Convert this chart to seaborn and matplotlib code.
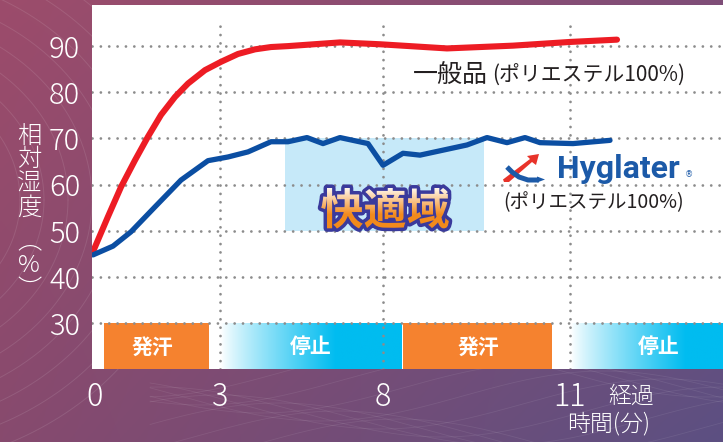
import numpy as np
import pandas as pd
import seaborn as sns
import matplotlib.pyplot as plt
from matplotlib.patches import PathPatch, Polygon
from matplotlib.textpath import TextPath
from matplotlib.font_manager import FontProperties
from matplotlib.transforms import Affine2D
from matplotlib.colors import to_rgb

# horizontal position along the chart (the time phases are not drawn to scale)
general_pos = [93, 108, 121, 135, 148, 161, 175, 188, 205, 221, 238, 255, 271, 288, 340, 380, 447, 513, 570, 617]
general_rh = [45.5, 53.1, 59.5, 65.3, 70.4, 75.1, 79.0, 81.9, 84.8, 86.6, 88.3, 89.3, 89.8, 90.0, 90.8, 90.4, 89.5, 90.1, 90.9, 91.4]

hyg_pos = [93, 113, 131, 155, 181, 208, 228, 248, 271, 288, 307, 323, 340, 368, 383, 403, 420, 467, 487, 507, 525, 540, 573, 610]
hyg_rh = [44.8, 46.7, 49.8, 55.2, 61.0, 65.2, 66.0, 67.1, 69.3, 69.3, 70.2, 68.9, 70.2, 68.9, 64.2, 66.8, 66.4, 68.6, 70.2, 69.1, 70.2, 69.1, 68.9, 69.6]

time_ticks = [95, 220, 383, 570]
time_labels = ["0", "3", "8", "11"]
rh_ticks = [30, 40, 50, 60, 70, 80, 90]

phase_names = ["発汗", "停止", "発汗", "停止"]
phase_kind = ["sweat", "stop", "sweat", "stop"]
phase_start = [104, 221, 403, 571]
phase_end = [209, 402, 552, 723]
phase_text_pos = [152, 311, 478, 659]

comfort_start, comfort_end = 285, 484
comfort_lo, comfort_hi = 50, 70

W, H = 723, 442
x_lo, x_hi = 92, 723
y_lo, y_hi = 20.1, 98.9

ORANGE = "#f5822f"
CYAN = "#00bcf0"
RED = "#ed1c24"
BLUE = "#0b4ea2"
GRID = "#8c8c8c"
INK = "#231f20"

sns.set_theme(style="white")
plt.rcParams["font.family"] = ["Noto Sans CJK JP", "DejaVu Sans"]

fig = plt.figure(figsize=(W / 100, H / 100), dpi=100)

# purple background with faint swirl lines
bg = fig.add_axes([0, 0, 1, 1], zorder=-5)
tl, tr, bl, br = [np.array(to_rgb(c)) for c in ("#9c4c6b", "#7f4e78", "#874a6e", "#5c5082")]
u = np.linspace(0, 1, 240)[None, :, None]
v = np.linspace(0, 1, 150)[:, None, None]
bg_img = (1 - v) * ((1 - u) * tl + u * tr) + v * ((1 - u) * bl + u * br)
bg.imshow(bg_img, extent=(0, W, H, 0), aspect="auto")
t = np.linspace(0, 2 * np.pi, 500)
for r in range(150, 330, 24):
    bg.plot(-130 + r * np.cos(t), 200 + 0.85 * r * np.sin(t), color="white", alpha=0.10, lw=0.7)
for k in range(10):
    xx = np.linspace(150, W, 200)
    bg.plot(xx, 372 + 8 * k + 25 * np.sin((xx - 60 * k) / 90), color="white", alpha=0.08, lw=0.6)
bg.set_xlim(0, W)
bg.set_ylim(H, 0)
bg.axis("off")

ax = fig.add_axes([x_lo / W, 1 - 369 / H, (W - x_lo) / W, (369 - 5) / H])
ax.set_facecolor("white")
for s in ax.spines.values():
    s.set_visible(False)

# comfort zone
ax.fill_between([comfort_start, comfort_end], comfort_lo, comfort_hi, color="#c6e9f9", lw=0, zorder=1)

# phase bars
for name, kind, a, b in zip(phase_names, phase_kind, phase_start, phase_end):
    col = ORANGE if kind == "sweat" else CYAN
    ax.bar(a, 30 - y_lo, width=b - a, bottom=y_lo, align="edge", color=col, lw=0, zorder=2)
    if kind == "stop":
        xs = np.linspace(a, b, 400)
        tt = np.clip((xs - a) / 115, 0, 1) ** 0.85
        grad = (1 - tt)[None, :, None] * np.ones(3) + tt[None, :, None] * np.array(to_rgb(CYAN))
        ax.imshow(grad, extent=(a, b, y_lo, 30), aspect="auto", zorder=2.1, interpolation="bilinear")
for name, px in zip(phase_names, phase_text_pos):
    ax.text(px, 24.9, name, color="white", fontsize=15, fontweight="bold", ha="center", va="center", zorder=6)

# dotted grid
dots = dict(color=GRID, lw=2.0, linestyle=(0, (0.01, 3.0)), capstyle="round", zorder=3)
ax.hlines(rh_ticks, x_lo, x_hi, **dots)
ax.vlines(time_ticks[1:], y_lo, 95.3, **dots)

# humidity curves
df = pd.concat([
    pd.DataFrame({"pos": general_pos, "rh": general_rh, "series": "一般品"}),
    pd.DataFrame({"pos": hyg_pos, "rh": hyg_rh, "series": "Hyglater"}),
])
sns.lineplot(data=df[df.series == "一般品"], x="pos", y="rh", color=RED, lw=4.4, sort=False,
             estimator=None, ax=ax, zorder=5)
sns.lineplot(data=df[df.series == "Hyglater"], x="pos", y="rh", color=BLUE, lw=3.8, sort=False,
             estimator=None, ax=ax, zorder=5)

ax.set_xlim(x_lo, x_hi)
ax.set_ylim(y_lo, y_hi)
ax.set_xticks(time_ticks, time_labels)
ax.set_yticks(rh_ticks)
ax.set_xlabel("")
ax.set_ylabel("")
ax.tick_params(axis="y", length=0, pad=8.5, labelsize=21, labelcolor="white")
ax.tick_params(axis="x", length=0, pad=9, labelsize=22, labelcolor="white")
for lab in ax.get_xticklabels() + ax.get_yticklabels():
    lab.set_fontweight("light")

# 快適域 label: outlined text with a white-to-orange fill
fp = FontProperties(family="Noto Sans CJK JP", weight="bold", size=31)
tp = TextPath((0, 0), "快適域", prop=fp)
bb = tp.get_extents()
cx, cy = ax.transData.transform((385, 54.9))
trans = (Affine2D().translate(-(bb.x0 + bb.x1) / 2, -(bb.y0 + bb.y1) / 2)
         .scale(fig.dpi / 72).translate(cx, cy))
ax.add_patch(PathPatch(tp, transform=trans, facecolor="#3a3a9c", edgecolor="#3a3a9c", lw=5,
                       joinstyle="round", zorder=6))
clip = PathPatch(tp, transform=trans, facecolor="none", edgecolor="none", zorder=6)
ax.add_patch(clip)
corners = trans.transform([[bb.x0, bb.y0], [bb.x1, bb.y1]])
(d0x, d0y), (d1x, d1y) = ax.transData.inverted().transform(corners)
gv = np.clip(np.linspace(0, 1, 100) / 0.65, 0, 1)[:, None, None]
fill = (1 - gv) * np.array(to_rgb("#fff8ee")) + gv * np.array(to_rgb("#f28a1c"))
img = ax.imshow(fill, extent=(d0x, d1x, d0y, d1y), origin="upper", aspect="auto", zorder=7)
img.set_clip_path(clip)
ax.set_xlim(x_lo, x_hi)
ax.set_ylim(y_lo, y_hi)

# series labels
ax.text(488, 83.5, "一般品", fontsize=18, color=INK, ha="right", va="center", zorder=6)
ax.text(492, 83.5, "(ポリエステル100%)", fontsize=15, color=INK, ha="left", va="center", zorder=6)
fig.text(594 / W, 1 - 203 / H, "(ポリエステル100%)", fontsize=14, color=INK, ha="center", va="center")
fig.text(557 / W, 1 - 178 / H, "Hyglater", family="Roboto", fontweight="bold", fontsize=23,
         color="#1c5aa8", ha="left", va="baseline")
fig.text(689 / W, 1 - 175 / H, "®", family="DejaVu Sans", fontsize=6, color="#1c5aa8", ha="center", va="center")

# small logo mark
lg = fig.add_axes([503 / W, 1 - 184 / H, 44 / W, 34 / H])
lg.set_xlim(0, 44)
lg.set_ylim(34, 0)
lg.axis("off")
lg.plot([4, 9, 16, 25, 36], [17, 22, 27, 30, 30], color="#1c5aa8", lw=3.6, solid_capstyle="butt")
lg.add_patch(Polygon([[34, 26.5], [42, 29.5], [34, 32.5]], color="#1c5aa8", lw=0))
lg.add_patch(Polygon([[1, 32], [6, 32], [29, 12], [33, 15], [36, 4], [24, 6], [27, 9], [0, 29.5]],
                     color="#e8332a", lw=0))

# axis titles
ylab = ["相", "対", "湿", "度", "︵", "%", "︶"]
ylab_y = [137, 160, 184, 208, 242, 266, 290]
for ch, yy in zip(ylab, ylab_y):
    fig.text(29 / W, 1 - yy / H, ch, fontsize=17.5, color="white", ha="center", va="center",
             fontweight="light")
fig.text(631 / W, 1 - 396 / H, "経過", fontsize=16.5, color="white", ha="center", va="center", fontweight="light")
fig.text(609 / W, 1 - 424 / H, "時間(分)", fontsize=16.5, color="white", ha="center", va="center", fontweight="light")

fig.savefig("out.png", dpi=100)
